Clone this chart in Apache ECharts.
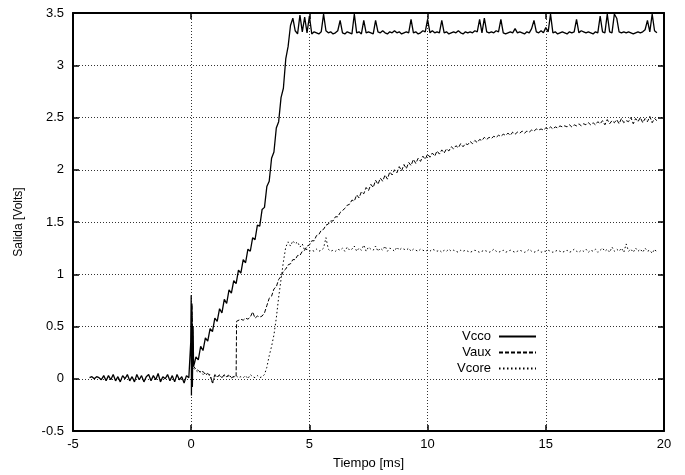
<!DOCTYPE html>
<html>
<head>
<meta charset="utf-8">
<script src="https://cdn.jsdelivr.net/npm/echarts@6/dist/echarts.min.js"></script>
<style>
html,body{margin:0;padding:0;background:#fff;}
#chart{width:685px;height:475px;}
</style>
</head>
<body>
<div id="chart"></div>
<script>
// ---- data ----
const xTicks = [-5, 0, 5, 10, 15, 20];
const yTicks = [-0.5, 0, 0.5, 1, 1.5, 2, 2.5, 3, 3.5];
const seriesNames = ['Vcco', 'Vaux', 'Vcore'];
const sampleStep = 0.1;

// Vcco: noise before t=0 (starts at -4.3 ms)
const vccoPreStart = -4.3;
const vccoPre = [
  0.01,0.02,0.00,0.02,0.01,-0.01,0.03,-0.02,0.03,-0.01,
  0.04,-0.02,0.02,-0.03,0.03,0.00,0.04,-0.02,0.02,-0.03,
  0.04,-0.01,0.03,-0.03,0.02,0.04,-0.02,0.03,-0.01,0.05,
  -0.03,0.02,0.00,0.04,-0.02,0.03,-0.03,0.04,-0.01,0.02,
  -0.04,0.03,0.01
];
// Vcco: switching spike around t=0
const vccoSpikeT = [-0.05, -0.02, 0.00, 0.01, 0.03, 0.05, 0.08, 0.10, 0.15];
const vccoSpikeV = [0.02, 0.35, 0.80, -0.16, 0.72, -0.08, 0.50, 0.12, 0.16];
// Vcco: ramp (starts at 0.2 ms)
const vccoRiseStart = 0.2;
const vccoRise = [
  0.21,0.18,0.31,0.27,0.39,0.36,0.48,0.45,0.58,0.55,
  0.67,0.63,0.76,0.72,0.85,0.82,0.94,0.91,1.04,1.01,
  1.14,1.11,1.24,1.22,1.35,1.33,1.47,1.46,1.62,1.64,
  1.84,1.89,2.11,2.17,2.40,2.46,2.69,2.78,3.06,3.18
];
// Vcco: plateau (starts at 4.2 ms)
const vccoFlatStart = 4.2;
const vccoFlat = [
  3.38,3.45,3.33,3.30,3.48,3.32,3.46,3.31,3.47,3.30,
  3.32,3.31,3.30,3.32,3.49,3.33,3.31,3.32,3.30,3.31,
  3.33,3.43,3.31,3.30,3.32,3.31,3.30,3.49,3.31,3.32,
  3.30,3.43,3.31,3.32,3.31,3.30,3.43,3.32,3.31,3.33,
  3.31,3.30,3.32,3.31,3.33,3.31,3.32,3.30,3.31,3.32,
  3.31,3.44,3.31,3.32,3.30,3.31,3.33,3.32,3.44,3.31,
  3.33,3.31,3.32,3.31,3.43,3.31,3.32,3.30,3.31,3.32,
  3.31,3.33,3.31,3.30,3.32,3.31,3.32,3.31,3.33,3.32,
  3.44,3.31,3.45,3.32,3.31,3.32,3.31,3.33,3.32,3.44,
  3.31,3.30,3.31,3.32,3.31,3.35,3.31,3.32,3.31,3.30,
  3.32,3.31,3.35,3.43,3.32,3.31,3.33,3.31,3.36,3.32,
  3.49,3.31,3.32,3.30,3.31,3.32,3.31,3.30,3.32,3.31,
  3.32,3.44,3.31,3.33,3.32,3.31,3.32,3.31,3.30,3.32,
  3.31,3.47,3.32,3.31,3.49,3.32,3.31,3.49,3.45,3.32,
  3.31,3.32,3.31,3.32,3.31,3.30,3.31,3.32,3.31,3.32,
  3.34,3.43,3.32,3.49,3.33,3.31
];

// Vaux
const vauxStartT = [0.03];
const vauxStartV = [0.70];
const vauxLowStart = 0.1;
const vauxLow = [
  0.12,0.09,0.08,0.06,0.07,0.04,0.05,0.03,-0.04,0.04,
  0.02,0.03,0.01,0.04,0.02,0.03,0.01,0.02,0.02
];
const vauxJumpT = [1.92];
const vauxJumpV = [0.55];
const vauxMainStart = 2.0;
const vauxMain = [
  0.56,0.57,0.56,0.58,0.57,0.59,0.64,0.58,0.60,0.59,
  0.60,0.63,0.70,0.77,0.79,0.86,0.88,0.95,0.98,1.03,
  1.05,1.09,1.10,1.14,1.14,1.18,1.18,1.22,1.23,1.27,
  1.28,1.32,1.32,1.37,1.38,1.42,1.43,1.47,1.48,1.51,
  1.51,1.55,1.55,1.59,1.61,1.63,1.66,1.67,1.71,1.70,
  1.76,1.73,1.79,1.77,1.83,1.80,1.86,1.83,1.90,1.86,
  1.92,1.89,1.95,1.91,1.98,1.95,2.00,1.97,2.03,1.99,
  2.05,2.01,2.07,2.04,2.10,2.06,2.11,2.08,2.13,2.10,
  2.15,2.12,2.16,2.13,2.18,2.15,2.19,2.16,2.20,2.18,
  2.22,2.20,2.23,2.21,2.25,2.22,2.25,2.24,2.27,2.25,
  2.28,2.26,2.29,2.28,2.31,2.29,2.31,2.30,2.32,2.31,
  2.33,2.32,2.34,2.33,2.35,2.33,2.36,2.34,2.36,2.35,
  2.37,2.35,2.37,2.36,2.38,2.37,2.39,2.38,2.39,2.38,
  2.40,2.39,2.41,2.39,2.41,2.40,2.42,2.41,2.42,2.41,
  2.43,2.41,2.43,2.42,2.44,2.42,2.44,2.43,2.45,2.43,
  2.45,2.43,2.46,2.44,2.47,2.43,2.48,2.44,2.47,2.45,
  2.48,2.44,2.49,2.45,2.47,2.46,2.50,2.44,2.49,2.46,
  2.50,2.45,2.49,2.46,2.51,2.45,2.49,2.47
];

// Vcore
const vcoreStartT = [0.04];
const vcoreStartV = [0.60];
const vcoreMainStart = 0.1;
const vcoreMain = [
  0.10,0.08,0.06,0.07,0.04,0.05,0.03,0.04,-0.05,0.03,
  0.02,0.04,0.01,0.03,0.02,0.04,0.01,0.02,0.03,0.01,
  0.02,0.01,0.03,0.00,0.04,0.02,0.01,0.03,0.01,0.02,
  0.04,0.11,0.22,0.31,0.42,0.58,0.78,0.95,1.12,1.26,
  1.31,1.27,1.32,1.29,1.31,1.26,1.29,1.23,1.24,1.22,
  1.23,1.22,1.24,1.22,1.23,1.25,1.35,1.24,1.22,1.23,
  1.22,1.24,1.23,1.25,1.22,1.26,1.23,1.24,1.27,1.22,
  1.25,1.23,1.28,1.22,1.26,1.24,1.23,1.27,1.22,1.25,
  1.23,1.27,1.22,1.25,1.24,1.22,1.26,1.23,1.25,1.24,
  1.23,1.25,1.22,1.24,1.23,1.22,1.24,1.23,1.22,1.23,
  1.22,1.24,1.23,1.22,1.23,1.21,1.23,1.22,1.24,1.22,
  1.23,1.22,1.21,1.23,1.22,1.23,1.22,1.21,1.22,1.23,
  1.22,1.21,1.22,1.23,1.22,1.21,1.22,1.24,1.22,1.21,
  1.22,1.23,1.21,1.22,1.23,1.22,1.21,1.22,1.23,1.22,
  1.21,1.22,1.24,1.22,1.21,1.22,1.23,1.21,1.22,1.22,
  1.23,1.22,1.21,1.22,1.23,1.22,1.21,1.22,1.23,1.21,
  1.22,1.24,1.22,1.21,1.23,1.22,1.24,1.21,1.23,1.22,
  1.24,1.21,1.23,1.25,1.22,1.24,1.21,1.26,1.22,1.24,
  1.22,1.25,1.21,1.29,1.22,1.24,1.21,1.25,1.22,1.24,
  1.21,1.25,1.22,1.23,1.20,1.24,1.21
];

// ---- build [t, v] pairs ----
function sampled(t0, vals) {
  return vals.map((v, i) => [Math.round((t0 + i * sampleStep) * 100) / 100, v]);
}
function pairs(ts, vs) { return ts.map((t, i) => [t, vs[i]]); }

const vccoData = [].concat(
  sampled(vccoPreStart, vccoPre),
  pairs(vccoSpikeT, vccoSpikeV),
  sampled(vccoRiseStart, vccoRise),
  sampled(vccoFlatStart, vccoFlat)
);
const vauxData = [].concat(
  pairs(vauxStartT, vauxStartV),
  sampled(vauxLowStart, vauxLow),
  pairs(vauxJumpT, vauxJumpV),
  sampled(vauxMainStart, vauxMain)
);
const vcoreData = [].concat(
  pairs(vcoreStartT, vcoreStartV),
  sampled(vcoreMainStart, vcoreMain)
);

const FONT = 'Liberation Sans, Arial, Helvetica, sans-serif';
const xMin = xTicks[0], xMax = xTicks[xTicks.length - 1], xInt = xTicks[1] - xTicks[0];
const yMin = yTicks[0], yMax = yTicks[yTicks.length - 1], yInt = yTicks[1] - yTicks[0];

const chart = echarts.init(document.getElementById('chart'), null, {renderer: 'canvas'});

const axisLineStyle = {show: true, onZero: false, lineStyle: {color: '#000', width: 2}};
const tickStyle = {show: true, inside: true, length: 6, lineStyle: {color: '#000', width: 1.5}};
const gridStyle = {show: true, lineStyle: {color: '#333', width: 1, type: [1, 2]}};

chart.setOption({
  animation: false,
  backgroundColor: '#fff',
  grid: {left: 73, right: 21, top: 13, bottom: 42, containLabel: false},
  legend: {
    data: seriesNames,
    orient: 'vertical',
    align: 'right',
    right: 143,
    top: 325,
    itemWidth: 37,
    itemHeight: 10,
    itemGap: 3,
    itemStyle: {opacity: 0},
    textStyle: {fontFamily: FONT, fontSize: 13, color: '#000', padding: [0, 3, 0, 0]},
    inactiveColor: '#000'
  },
  xAxis: [
    {
      type: 'value', position: 'bottom', min: xMin, max: xMax, interval: xInt,
      name: 'Tiempo [ms]', nameLocation: 'middle', nameGap: 26,
      nameTextStyle: {fontFamily: FONT, fontSize: 13, color: '#000'},
      axisLine: axisLineStyle, axisTick: tickStyle,
      axisLabel: {fontFamily: FONT, fontSize: 13, color: '#000', margin: 7},
      splitLine: gridStyle
    },
    {
      type: 'value', position: 'top', min: xMin, max: xMax, interval: xInt,
      axisLine: axisLineStyle, axisTick: tickStyle,
      axisLabel: {show: false}, splitLine: {show: false}
    }
  ],
  yAxis: [
    {
      type: 'value', position: 'left', min: yMin, max: yMax, interval: yInt,
      name: 'Salida [Volts]', nameLocation: 'middle', nameGap: 48, nameRotate: 90,
      nameTextStyle: {fontFamily: FONT, fontSize: 12, color: '#000'},
      axisLine: axisLineStyle, axisTick: tickStyle,
      axisLabel: {fontFamily: FONT, fontSize: 13, color: '#000', margin: 9},
      splitLine: gridStyle
    },
    {
      type: 'value', position: 'right', min: yMin, max: yMax, interval: yInt,
      axisLine: axisLineStyle, axisTick: tickStyle,
      axisLabel: {show: false}, splitLine: {show: false}
    }
  ],
  series: [
    {
      name: seriesNames[0], type: 'line', data: vccoData, symbol: 'none',
      lineStyle: {color: '#000', width: 1.3, type: 'solid'}, itemStyle: {color: '#000'},
      z: 3
    },
    {
      name: seriesNames[1], type: 'line', data: vauxData, symbol: 'none',
      lineStyle: {color: '#000', width: 1, type: [4, 2]}, itemStyle: {color: '#000'},
      z: 2
    },
    {
      name: seriesNames[2], type: 'line', data: vcoreData, symbol: 'none',
      lineStyle: {color: '#000', width: 1, type: [1.5, 2.5]}, itemStyle: {color: '#000'},
      z: 2
    }
  ]
});
</script>
</body>
</html>
